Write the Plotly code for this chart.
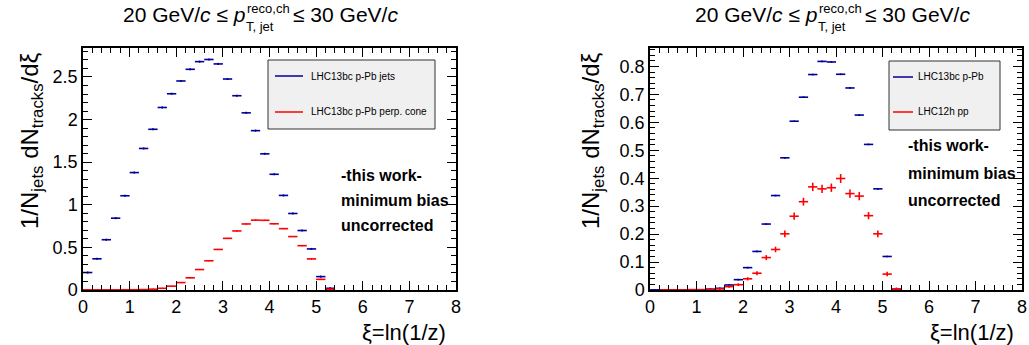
import plotly.graph_objects as go

W, H = 1029, 345

# ---------------- data ----------------
xi = [0.1, 0.3, 0.5, 0.7, 0.9, 1.1, 1.3, 1.5, 1.7, 1.9,
      2.1, 2.3, 2.5, 2.7, 2.9, 3.1, 3.3, 3.5, 3.7, 3.9,
      4.1, 4.3, 4.5, 4.7, 4.9, 5.1, 5.3]
bin_half = [0.1] * len(xi)

left_jets = [0.205, 0.366, 0.59, 0.843, 1.106, 1.378, 1.661, 1.886, 2.142, 2.303,
             2.453, 2.59, 2.68, 2.705, 2.653, 2.476, 2.28, 2.079, 1.87, 1.598,
             1.358, 1.11, 0.898, 0.698, 0.482, 0.157, 0.02]
left_jets_err = [0.012] * len(xi)
left_perp = [0.002, 0.002, 0.002, 0.002, 0.003, 0.003, 0.005, 0.01, 0.02, 0.045,
             0.087, 0.143, 0.24, 0.343, 0.476, 0.606, 0.693, 0.775, 0.82, 0.818,
             0.777, 0.72, 0.627, 0.52, 0.365, 0.125, 0.01]
left_perp_err = [0.006] * len(xi)

right_ppb = [0.0005, 0.0005, 0.0005, 0.0005, 0.001, 0.001, 0.003, 0.006, 0.018, 0.037,
             0.08, 0.138, 0.236, 0.338, 0.473, 0.604, 0.69, 0.771, 0.818, 0.816,
             0.772, 0.723, 0.626, 0.521, 0.362, 0.12, 0.003]
right_ppb_err = [0.003] * len(xi)
right_pp = [None, 0.0005, 0.0005, 0.0005, 0.001, 0.001, 0.002, 0.004, 0.012, 0.019,
            0.04, 0.06, 0.116, 0.145, 0.201, 0.264, 0.316, 0.369, 0.362, 0.366,
            0.399, 0.345, 0.336, 0.266, 0.201, 0.057, 0.003]
right_pp_err = [0.0, 0.001, 0.001, 0.001, 0.001, 0.001, 0.002, 0.003, 0.004, 0.005,
                0.006, 0.007, 0.009, 0.01, 0.012, 0.013, 0.014, 0.015, 0.015, 0.015,
                0.016, 0.015, 0.015, 0.013, 0.012, 0.008, 0.006]

left_names = ["LHC13bc p-Pb jets", "LHC13bc p-Pb perp. cone"]
right_names = ["LHC13bc p-Pb", "LHC12h pp"]
notes = ["-this work-", "minimum bias", "uncorrected"]

BLUE = "#000099"
RED = "#ff0000"
FONT = "Liberation Sans"


def px(x):
    return x / W


def py(y):
    return 1 - y / H


fig = go.Figure()


def add_series(x, y, ey, color, xa, ya, thick=1.6):
    fig.add_trace(go.Scatter(
        x=x, y=y, mode="markers", xaxis=xa, yaxis=ya,
        marker=dict(size=1, color=color),
        error_x=dict(type="data", array=bin_half, symmetric=True, width=0,
                     thickness=thick, color=color),
        error_y=dict(type="data", array=ey, symmetric=True, width=0,
                     thickness=thick, color=color),
        showlegend=False, hoverinfo="skip"))


add_series(xi, left_jets, left_jets_err, BLUE, "x", "y")
add_series(xi, left_perp, left_perp_err, RED, "x", "y")
add_series(xi, right_ppb, right_ppb_err, BLUE, "x2", "y2")
add_series(xi, right_pp, right_pp_err, RED, "x2", "y2")

tickfont = dict(family=FONT, size=18, color="black")


def xax(domain, anchor):
    return dict(domain=domain, anchor=anchor, range=[0, 8], dtick=1, tick0=0,
                ticks="inside", ticklen=9, tickwidth=1, tickcolor="black",
                minor=dict(dtick=0.2, ticks="inside", ticklen=5, tickcolor="black"),
                showline=True, linecolor="black", linewidth=1.5, mirror="allticks",
                showgrid=False, zeroline=False, tickfont=tickfont,
                ticklabelstandoff=0, automargin=False)


def yax(domain, anchor, rng, dt, mdt):
    return dict(domain=domain, anchor=anchor, range=rng, dtick=dt, tick0=0,
                ticks="inside", ticklen=9, tickwidth=1, tickcolor="black",
                minor=dict(dtick=mdt, ticks="inside", ticklen=5, tickcolor="black"),
                showline=True, linecolor="black", linewidth=1.5, mirror="allticks",
                showgrid=False, zeroline=False, tickfont=tickfont, automargin=False)


ydom = [py(290), py(48)]
fig.update_layout(
    width=W, height=H, margin=dict(l=0, r=0, t=0, b=0, autoexpand=False),
    paper_bgcolor="white", plot_bgcolor="white",
    xaxis=xax([px(83), px(456)], "y"),
    yaxis=yax(ydom, "x", [0, 2.84], 0.5, 0.1),
    xaxis2=xax([px(650), px(1022)], "y2"),
    yaxis2=yax(ydom, "x2", [0, 0.866], 0.1, 0.02),
    font=dict(family=FONT, color="black"),
)

ann = []
shapes = []


def text(x, y, s, size, xanchor="center", yanchor="middle", angle=0):
    ann.append(dict(x=px(x), y=py(y), xref="paper", yref="paper", text=s,
                    showarrow=False, xanchor=xanchor, yanchor=yanchor,
                    textangle=angle, borderpad=0,
                    font=dict(family=FONT, size=size, color="black")))


for off in (0, 572):
    # title
    text(246 + off, 14, "20 GeV/<i>c</i> ≤ <i>p</i>", 21, xanchor="right")
    text(246 + off, 9, "reco,ch", 13, xanchor="left")
    text(245 + off, 26, "T, jet", 13, xanchor="left")
    text(292 + off, 14, "≤ 30 GeV/<i>c</i>", 21, xanchor="left")

# y-axis titles
for xc in (31, 592):
    text(xc, 141, "1/N<sub>jets</sub> dN<sub>tracks</sub>/dξ", 24, angle=-90)

# x-axis titles
text(447, 332, "ξ=ln(1/z)", 22, xanchor="right")
text(1015, 332, "ξ=ln(1/z)", 22, xanchor="right")

# legends
def legend(x0, x1, y0, y1, lx0, lx1, tx, entries):
    shapes.append(dict(type="rect", xref="paper", yref="paper",
                       x0=px(x0), x1=px(x1), y0=py(y1), y1=py(y0),
                       fillcolor="#f0f0f0", line=dict(color="#333333", width=1)))
    for (name, color, yy) in entries:
        shapes.append(dict(type="line", xref="paper", yref="paper",
                           x0=px(lx0), x1=px(lx1), y0=py(yy), y1=py(yy),
                           line=dict(color=color, width=1.5)))
        text(tx, yy, name, 10, xanchor="left")


legend(268, 435, 60, 129, 275, 303, 310,
       [(left_names[0], BLUE, 76), (left_names[1], RED, 112)])
legend(889, 1000, 61, 130, 893, 913, 917,
       [(right_names[0], BLUE, 77), (right_names[1], RED, 112)])

for i, n in enumerate(notes):
    text(340, 175 + 25 * i, "<b>" + n + "</b>", 16, xanchor="left")
    text(907, 146 + 27 * i, "<b>" + n + "</b>", 16, xanchor="left")

fig.update_layout(annotations=ann, shapes=shapes)
fig.write_html("out.html")
